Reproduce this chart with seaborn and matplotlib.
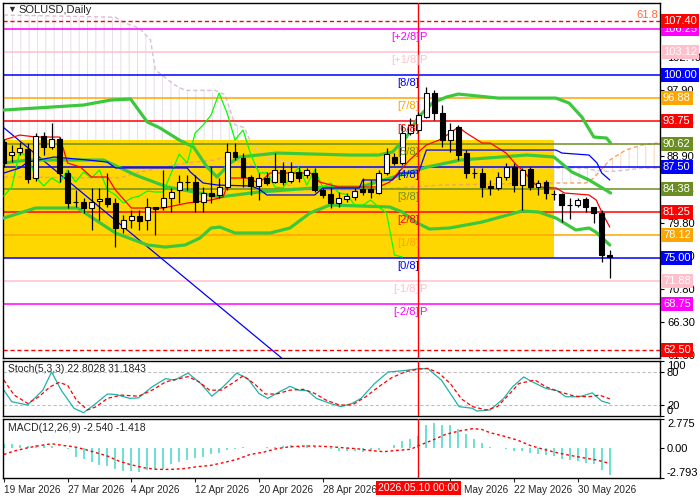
import numpy as np
import pandas as pd
import matplotlib
matplotlib.use("Agg")
import matplotlib.pyplot as plt
import matplotlib.transforms as mtransforms
import seaborn as sns

sns.set_style("white")
plt.rcParams['font.family'] = ['Liberation Sans', 'DejaVu Sans']
plt.rcParams['hatch.linewidth'] = 0.7

# ---- daily candles, 19 Mar 2026 .. 3 Jun 2026 ----
dates = pd.date_range("2026-03-19", periods=77, freq="D")
opens = [90.80, 89.07, 89.48, 89.89, 85.93, 91.67, 90.16, 91.26, 86.61, 82.65,
         82.65, 81.83, 82.79, 83.20, 82.51, 79.10, 80.19, 80.74, 80.19, 81.97,
         81.97, 83.20, 84.29, 85.38, 85.38, 82.65, 83.88, 83.61, 84.70, 89.48,
         88.66, 86.07, 84.84, 85.93, 85.38, 87.02, 85.52, 86.75, 86.34, 86.61,
         84.29, 83.74, 82.51, 83.06, 83.33, 84.43, 84.43, 83.88, 86.61, 88.80,
         87.98, 92.08, 92.49, 94.26, 97.54, 94.81, 91.12, 92.90, 89.34, 86.61,
         86.61, 84.84, 84.56, 86.07, 87.43, 84.97, 87.16, 84.70, 85.38, 83.74,
         83.74, 82.24, 82.24, 83.06, 81.97, 81.15, 75.41]
highs = [91.20, 90.44, 90.85, 90.71, 92.08, 92.21, 93.44, 91.53, 87.02, 84.29,
         83.20, 84.56, 84.56, 86.61, 83.20, 80.87, 81.56, 81.56, 83.20, 82.00,
         87.02, 84.56, 86.34, 86.34, 86.34, 84.70, 87.43, 85.93, 90.71, 90.71,
         89.34, 86.34, 86.61, 86.75, 89.34, 88.11, 88.11, 87.43, 87.30, 87.30,
         84.56, 84.70, 84.02, 83.88, 84.56, 85.93, 85.66, 87.02, 90.03, 89.34,
         93.17, 94.13, 94.95, 98.36, 97.95, 95.90, 93.44, 93.17, 89.75, 87.30,
         87.30, 85.66, 86.75, 87.98, 87.98, 87.30, 87.43, 85.66, 85.66, 84.29,
         83.88, 83.20, 83.20, 83.33, 82.00, 81.56, 76.09]
lows = [87.40, 88.11, 89.07, 85.25, 85.52, 89.07, 89.89, 85.38, 81.83, 81.97,
        81.15, 78.83, 80.19, 81.97, 76.50, 78.42, 79.10, 78.83, 78.83, 78.14,
        81.56, 81.28, 82.50, 84.29, 81.28, 81.28, 82.51, 83.20, 84.29, 88.39,
        84.70, 83.61, 82.92, 84.97, 85.25, 84.97, 85.25, 85.38, 85.93, 84.02,
        83.20, 81.83, 81.97, 82.65, 82.92, 83.61, 83.20, 83.74, 86.34, 87.70,
        87.70, 91.80, 92.21, 94.13, 93.85, 90.16, 89.48, 88.39, 85.93, 85.93,
        83.33, 83.61, 84.29, 85.66, 84.02, 81.56, 84.29, 83.61, 83.06, 82.92,
        79.92, 80.33, 81.97, 81.28, 79.78, 74.45, 72.27]
closes = [88.00, 89.48, 90.03, 85.79, 91.67, 90.16, 91.26, 86.61, 82.51, 82.60,
          81.83, 82.65, 83.06, 82.38, 79.10, 80.19, 80.74, 80.05, 81.97, 81.69,
          83.20, 84.02, 85.38, 85.40, 82.65, 83.88, 83.47, 84.70, 89.48, 88.80,
          86.07, 84.84, 85.93, 85.25, 87.02, 85.38, 86.75, 85.93, 87.02, 84.29,
          83.61, 82.51, 83.20, 83.47, 84.15, 84.02, 84.02, 86.61, 89.21, 87.98,
          92.08, 93.17, 94.54, 97.54, 94.81, 91.12, 92.49, 89.07, 86.61, 86.65,
          84.70, 84.56, 86.07, 87.43, 84.97, 87.02, 84.70, 85.25, 83.88, 83.70,
          82.24, 82.20, 82.92, 81.97, 81.15, 75.41, 75.14]

# ---- Bollinger bands ----
bb_up_days = [0, 4, 10, 13.4, 15.9, 18, 19.6, 22, 23.8, 25.5, 26.75, 28.4, 29.6, 34.25,
              43.4, 47, 48.75, 50.5, 52, 53.75, 55.5, 57, 62, 69.25, 70.9, 72.5, 74, 75.6, 76.1]
bb_up = [95.22, 95.49, 95.90, 96.58, 96.72, 93.58, 92.76, 91.12, 90.16, 87.43, 86.07, 87.98,
         88.80, 89.34, 89.07, 89.07, 89.48, 91.53, 94.26, 96.17, 96.99, 97.40, 96.85, 96.85,
         96.17, 94.26, 91.53, 91.39, 90.71]
bb_mid_days = [0, 3, 12.5, 16.5, 20.5, 24.6, 27, 32, 40.5, 44.7, 48.9, 53.1, 57.3, 65.6, 69,
               71.25, 73.4, 75.5, 76.1]
bb_mid = [87.98, 88.39, 88.39, 86.34, 84.70, 83.88, 83.33, 84.02, 84.70, 84.70, 86.07, 87.43,
          88.39, 89.07, 88.80, 86.75, 85.66, 84.29, 83.88]
bb_low_days = [0, 4, 9.25, 14, 18, 20.25, 22.75, 24.6, 26, 27.1, 29, 33.4, 35.9, 38.4, 40.9,
               45, 48.4, 50, 51.6, 53.4, 55.9, 60, 65, 67.1, 69.25, 71.75, 73.4, 74.25, 76]
bb_low = [80.46, 81.83, 81.83, 78.42, 76.78, 76.50, 76.78, 77.73, 79.10, 79.23, 78.42, 78.42,
          79.10, 81.15, 82.24, 82.10, 81.97, 81.28, 79.92, 78.96, 79.10, 79.92, 81.42, 81.28,
          80.46, 78.83, 79.10, 78.55, 76.78]

# ---- Ichimoku lines ----
tenkan_days = [0, 2, 4, 7, 7.4, 8, 9.6, 11, 13, 14, 16, 20, 23, 26, 27.5, 28.4, 30.5, 32, 33.4,
               38.5, 39.6, 42, 47, 48.4, 50.9, 52, 53, 54.6, 56, 57, 58, 60, 61, 63, 64.3, 65.3,
               66.3, 67.1, 69.3, 70.3, 73.4, 74.3, 75, 76]
tenkan = [91.12, 91.80, 91.53, 91.53, 90.16, 87.98, 87.43, 86.07, 86.07, 84.29, 81.83, 81.83,
          82.51, 82.92, 83.33, 85.93, 85.93, 85.25, 86.61, 86.61, 85.38, 84.70, 84.70, 85.38,
          88.39, 89.48, 90.44, 91.12, 92.08, 92.90, 92.08, 90.71, 90.71, 89.34, 87.70, 86.75,
          85.38, 84.70, 84.56, 83.88, 83.61, 82.92, 81.28, 79.23]
kijun_days = [0, 2, 3, 6.3, 10.5, 13, 14, 23, 23.4, 25, 26.8, 31, 32, 33, 39, 40, 44.6, 45,
              48.75, 49.6, 52, 53, 69.25, 70, 73.4, 74.4, 75, 76]
kijun = [86.61, 87.30, 88.11, 88.80, 88.39, 88.11, 87.30, 87.30, 86.75, 85.25, 84.97, 84.84,
         84.43, 83.61, 83.61, 84.56, 84.56, 85.66, 85.66, 86.61, 86.61, 89.75, 89.75, 89.34,
         89.07, 87.98, 86.61, 85.66]
cloud_days = [0, 14, 15, 17, 18.4, 19, 20.3, 21.5, 22.75, 26.5, 27.75, 29, 30.2, 31, 33, 37,
              45, 55, 68, 73, 74, 76, 78, 80, 82]
span_b = [108.2, 107.9, 107.2, 106.4, 104.8, 100.7, 99.6, 98.6, 97.9, 97.9, 97.3, 93.2, 92.8,
          90.7, 88.7, 87.7, 87.3, 87.3, 87.3, 87.3, 87.0, 86.8, 87.0, 87.3, 87.3]
span_a = [86.07, 85.93, 86.07, 86.75, 87.02, 87.30, 87.43, 87.70, 87.98, 88.39, 88.80, 88.39,
          88.00, 87.70, 86.34, 84.29, 84.29, 84.97, 85.25, 85.25, 85.93, 88.39, 89.75, 90.44,
          90.71]
chikou_shift = 26

trend_pts = [(0, 92.8), (34, 62.1)]

# ---- Murrey math / fib levels ----
murrey_levels = [106.25, 103.12, 100.00, 96.88, 93.75, 90.62, 87.50, 84.38, 81.25, 78.12,
                 75.00, 71.88, 68.75]
murrey_names = ["[+2/8]", "[+1/8]", "[8/8]", "[7/8]", "[6/8]", "[5/8]", "[4/8]", "[3/8]",
                "[2/8]", "[1/8]", "[0/8]", "[-1/8]", "[-2/8]"]
murrey_colors = ["#FF00FF", "#FFC0CB", "#0000FF", "#FFA500", "#FF0000", "#6B8E23", "#0000FF",
                 "#6B8E23", "#FF0000", "#FFA500", "#0000FF", "#FFC0CB", "#FF00FF"]
fib_levels = [107.40, 62.50]
price_ticks = [61.80, 66.30, 70.80, 75.30, 79.80, 84.35, 88.90, 93.40, 97.90, 102.40]
box_top, box_bottom, box_end = 91.1, 75.0, 69.0
marker_day = 52

# ---- Stochastic (5,3,3) ----
k_days = [0, 1, 3, 4.9, 6, 7.2, 8.8, 10, 11.3, 13, 14.1, 15.8, 16.9, 18.6, 20.3, 21.4, 23.1,
          24.7, 26.1, 27.5, 29.2, 30.6, 32, 33.1, 34.2, 35.9, 37, 38.1, 39.2, 40.9, 42.3, 43.7,
          44.8, 46.5, 48.2, 49.8, 52.1, 53.2, 54.9, 56, 57.1, 58.8, 59.3, 61, 62.7, 63.8, 65.2,
          66.3, 68, 69.4, 70.5, 72.2, 73.8, 75, 76]
k_vals = [47, 26, 20, 47, 80, 47, 14, 6, 20, 40, 39, 32, 33, 53, 68, 65, 78, 59, 36, 53, 78,
          68, 41, 32, 41, 54, 47, 46, 32, 23, 17, 23, 32, 59, 80, 82, 86, 86, 65, 41, 17, 14,
          9, 11, 32, 53, 71, 62, 50, 46, 35, 35, 42, 27, 22.8]
d_days = [0, 1.3, 3, 4.4, 5.8, 6.9, 8, 9.1, 10.5, 11.6, 13, 14.7, 16.9, 18.6, 20.3, 21.7, 23.1,
          24.5, 25.8, 27.3, 28.6, 30, 31.4, 32.8, 34.2, 35.9, 37.6, 39, 40.4, 42.1, 43.7, 45.4,
          47, 48.7, 50.4, 52.1, 53.2, 54.6, 56, 57.4, 58.8, 60.5, 61.9, 63.3, 64.6, 66.6, 68,
          69.7, 71.6, 73.3, 74.7, 76]
d_vals = [65.5, 38, 23, 35, 53, 61, 56, 29, 11, 17, 32, 38, 36, 47, 62, 67, 71.5, 62, 47, 47,
          59, 73, 59, 40, 40, 47, 48.5, 41, 29, 20, 20, 35, 53, 70, 80.6, 85.5, 86.7, 77.6, 59,
          31, 17, 11, 17, 38, 59, 65.5, 53, 44, 36, 35, 38, 31.18]

# ---- MACD (12,26,9) ----
macd_hist = [0.38, 0.38, 0.32, 0.22, 0.29, 0.29, 0.22, 0.06, -0.10, -0.79,
             -1.04, -1.29, -1.61, -1.67, -1.99, -2.14, -2.14, -2.23, -2.05, -1.92,
             -1.99, -1.51, -1.29, -1.10, -0.88, -0.79, -0.57, -0.41, -0.16, -0.03,
             0.16, 0.06, 0.06, 0.10, 0.16, 0.22, 0.29, 0.22, 0.29, 0.16,
             0.03, -0.10, -0.29, -0.22, -0.22, -0.35, -0.29, -0.19, 0.06, 0.29,
             0.69, 0.91, 1.16, 2.17, 2.36, 2.17, 2.17, 1.80, 1.32, 0.91,
             0.54, 0.16, 0.02, -0.04, -0.25, -0.25, -0.41, -0.57, -0.66, -0.72,
             -1.04, -1.10, -1.19, -1.35, -1.51, -2.05, -2.54]
sig_days = [0, 1.3, 3, 4.6, 6, 7.4, 8.8, 10.2, 11.6, 13, 14.4, 15.8, 17.5, 19.2, 20.8, 22.5,
            24.2, 25.9, 27.5, 29.2, 30.9, 32.6, 34.2, 35.9, 37.6, 39.2, 40.9, 42.6, 44.3, 45.9,
            47.6, 49.3, 51, 52.1, 53.8, 55.4, 57.1, 58.8, 59.9, 61, 62.7, 64.4, 66, 67.7, 69.4,
            71, 72.7, 74.4, 76]
sig_vals = [-0.57, -0.25, 0.06, 0.28, 0.44, 0.28, 0.16, -0.10, -0.41, -0.72, -1.19, -1.51,
            -1.82, -1.98, -1.98, -1.92, -1.73, -1.61, -1.35, -1.04, -0.57, -0.35, -0.03, 0.16,
            0.22, 0.22, 0.16, 0.06, -0.03, -0.19, -0.31, -0.19, -0.09, 0.28, 0.79, 1.32, 1.64,
            1.86, 1.80, 1.48, 1.16, 0.79, 0.28, -0.09, -0.41, -0.66, -0.88, -1.10, -1.42]

date_ticks = [0, 8, 16, 24, 32, 40, 56, 64, 72]

days = np.arange(len(closes))
o, h, l, c = map(np.array, (opens, highs, lows, closes))

fig = plt.figure(figsize=(7, 5), dpi=100)
ax = fig.add_axes([3 / 700, 142 / 500, 657 / 700, 355 / 500])
ax_st = fig.add_axes([3 / 700, 84 / 500, 657 / 700, 55 / 500])
ax_md = fig.add_axes([3 / 700, 22 / 500, 657 / 700, 59 / 500])
xlim = (-0.1, 82.3)

# --- main panel ---
ax.fill_between(cloud_days, span_a, span_b, where=np.array(span_b) >= np.array(span_a),
                interpolate=True, facecolor="none", edgecolor="#E9DDE9", hatch="||", lw=0, zorder=0.8)
ax.fill_between(cloud_days, span_a, span_b, where=np.array(span_a) >= np.array(span_b),
                interpolate=True, facecolor="none", edgecolor="#F9D6B8", hatch="||", lw=0, zorder=0.8)
ax.fill_between([xlim[0], box_end], box_bottom, box_top, color="#FFD700", lw=0, zorder=1)
ax.plot(cloud_days, span_b, color="#D8BFD8", ls=(0, (3, 2)), lw=1, zorder=1.5)
ax.plot(cloud_days, span_a, color="#F4A460", ls=(0, (3, 2)), lw=1, zorder=1.5)

for lev, col in zip(murrey_levels, murrey_colors):
    ax.axhline(lev, color=col, lw=1.1, zorder=2)
for lev in fib_levels:
    ax.axhline(lev, color="#FF0000", lw=1, ls=(0, (3, 2)), zorder=2)
ax.axline(trend_pts[0], trend_pts[1], color="#0000FF", lw=0.9, zorder=2.2)

for xs, ys in [(bb_up_days, bb_up), (bb_mid_days, bb_mid), (bb_low_days, bb_low)]:
    sns.lineplot(x=xs, y=ys, ax=ax, color="#3CC83C", lw=2.3, zorder=3, errorbar=None)
sns.lineplot(x=days[chikou_shift:] - chikou_shift, y=c[chikou_shift:], ax=ax,
             color="#00FF00", lw=0.9, zorder=3.2, errorbar=None)
sns.lineplot(x=tenkan_days, y=tenkan, ax=ax, color="#FF0000", lw=0.9, zorder=3.3, errorbar=None)
sns.lineplot(x=kijun_days, y=kijun, ax=ax, color="#0000FF", lw=0.9, zorder=3.3, errorbar=None)

ax.vlines(days, l, h, color="black", lw=0.9, zorder=5)
up = c >= o
ax.bar(days, np.abs(c - o), bottom=np.minimum(o, c), width=0.62,
       color=np.where(up, "white", "black"), edgecolor="black", lw=0.8, zorder=6)

for ax_ in (ax, ax_st, ax_md):
    ax_.axvline(marker_day, color="#FF0000", lw=1, zorder=4)
    ax_.set_xlim(*xlim)
    for s in ax_.spines.values():
        s.set_color("black")
        s.set_linewidth(1)
    ax_.yaxis.tick_right()
    ax_.tick_params(axis="y", labelsize=8, length=3, pad=2, direction="out", right=True, colors="black")
    ax_.set_xlabel("")
    ax_.set_ylabel("")

ax.set_ylim(61.34, 109.84)
ax.set_yticks(price_ticks)
ax.set_yticklabels([f"{v:.2f}" for v in price_ticks])
ax.set_xticks([])

trans_r = mtransforms.blended_transform_factory(ax.transAxes, ax.transData)
for lev, col, name in zip(murrey_levels, murrey_colors, murrey_names):
    ax.text(1.0045, lev, f"{lev:.2f}", transform=trans_r, ha="left", va="center", fontsize=8,
            color="white", clip_on=False, zorder=20,
            bbox=dict(boxstyle="square,pad=0.18", fc=col, ec="none"))
    ax.text(marker_day + 0.1, lev - 1.1, name, ha="right", va="center", fontsize=8, color=col, zorder=7)
    if "+" in name or "-" in name:
        ax.text(marker_day + 0.1, lev - 1.1, "P", ha="left", va="center", fontsize=8, color=col, zorder=7)
for lev in fib_levels:
    ax.text(1.0045, lev, f"{lev:.2f}", transform=trans_r, ha="left", va="center", fontsize=8,
            color="white", clip_on=False, zorder=20,
            bbox=dict(boxstyle="square,pad=0.18", fc="#FF0000", ec="none"))
ax.text(0.997, 107.55, "61.8", transform=trans_r, ha="right", va="bottom", fontsize=8, color="#FF6A3D")
ax.text(0.006, 0.981, "\u25BC", transform=ax.transAxes, fontsize=6.5, va="center", ha="left")
ax.text(0.023, 0.981, "SOLUSD,Daily", transform=ax.transAxes, fontsize=8, va="center", ha="left")

# --- stochastic ---
ax_st.axhline(80, color="#C0C0C0", lw=0.8, ls=(0, (3, 2)))
ax_st.axhline(20, color="#C0C0C0", lw=0.8, ls=(0, (3, 2)))
sns.lineplot(x=k_days, y=k_vals, ax=ax_st, color="#20B2AA", lw=0.9, errorbar=None)
sns.lineplot(x=d_days, y=d_vals, ax=ax_st, color="#FF0000", lw=0.9, ls=(0, (3, 2)), errorbar=None)
ax_st.set_ylim(0, 100)
ax_st.set_yticks([0, 20, 80, 100])
ax_st.set_xticks([])
ax_st.set_xlabel("")
ax_st.set_ylabel("")
st_labels = ax_st.get_yticklabels()
st_labels[0].set_va("bottom")
st_labels[-1].set_va("top")
ax_st.text(0.008, 0.86, "Stoch(5,3,3) 22.8028 31.1843", transform=ax_st.transAxes,
           fontsize=7.5, va="center", ha="left")

# --- MACD ---
ax_md.vlines(days, 0, macd_hist, color="#40D8C8", lw=1.1)
sns.lineplot(x=sig_days, y=sig_vals, ax=ax_md, color="#FF0000", lw=1, ls=(0, (2, 2)), errorbar=None)
ax_md.set_ylim(-2.793, 2.775)
ax_md.set_yticks([2.775, 0, -2.793])
ax_md.set_yticklabels(["2.775", "0.00", "-2.793"])
md_labels = ax_md.get_yticklabels()
md_labels[0].set_va("top")
md_labels[-1].set_va("bottom")
ax_md.set_xlabel("")
ax_md.set_ylabel("")
ax_md.set_xticks(date_ticks)
ax_md.set_xticklabels([f"{dates[i].day} {dates[i].strftime('%b %Y')}" for i in date_ticks],
                      ha="left", fontsize=7.2)
ax_md.tick_params(axis="x", length=3, pad=2, direction="out", bottom=True)
ax_md.text(0.008, 0.85, "MACD(12,26,9) -2.540 -1.418", transform=ax_md.transAxes,
           fontsize=7.5, va="center", ha="left")
trans_d = mtransforms.blended_transform_factory(ax_md.transData, ax_md.transAxes)
ax_md.text(marker_day, -0.17, dates[marker_day].strftime("%Y.%m.%d 00:00"), transform=trans_d,
           ha="center", va="center", fontsize=7.5, color="white", clip_on=False, zorder=20,
           bbox=dict(boxstyle="square,pad=0.2", fc="#FF0000", ec="none"))

fig.savefig("out.png", dpi=100)
